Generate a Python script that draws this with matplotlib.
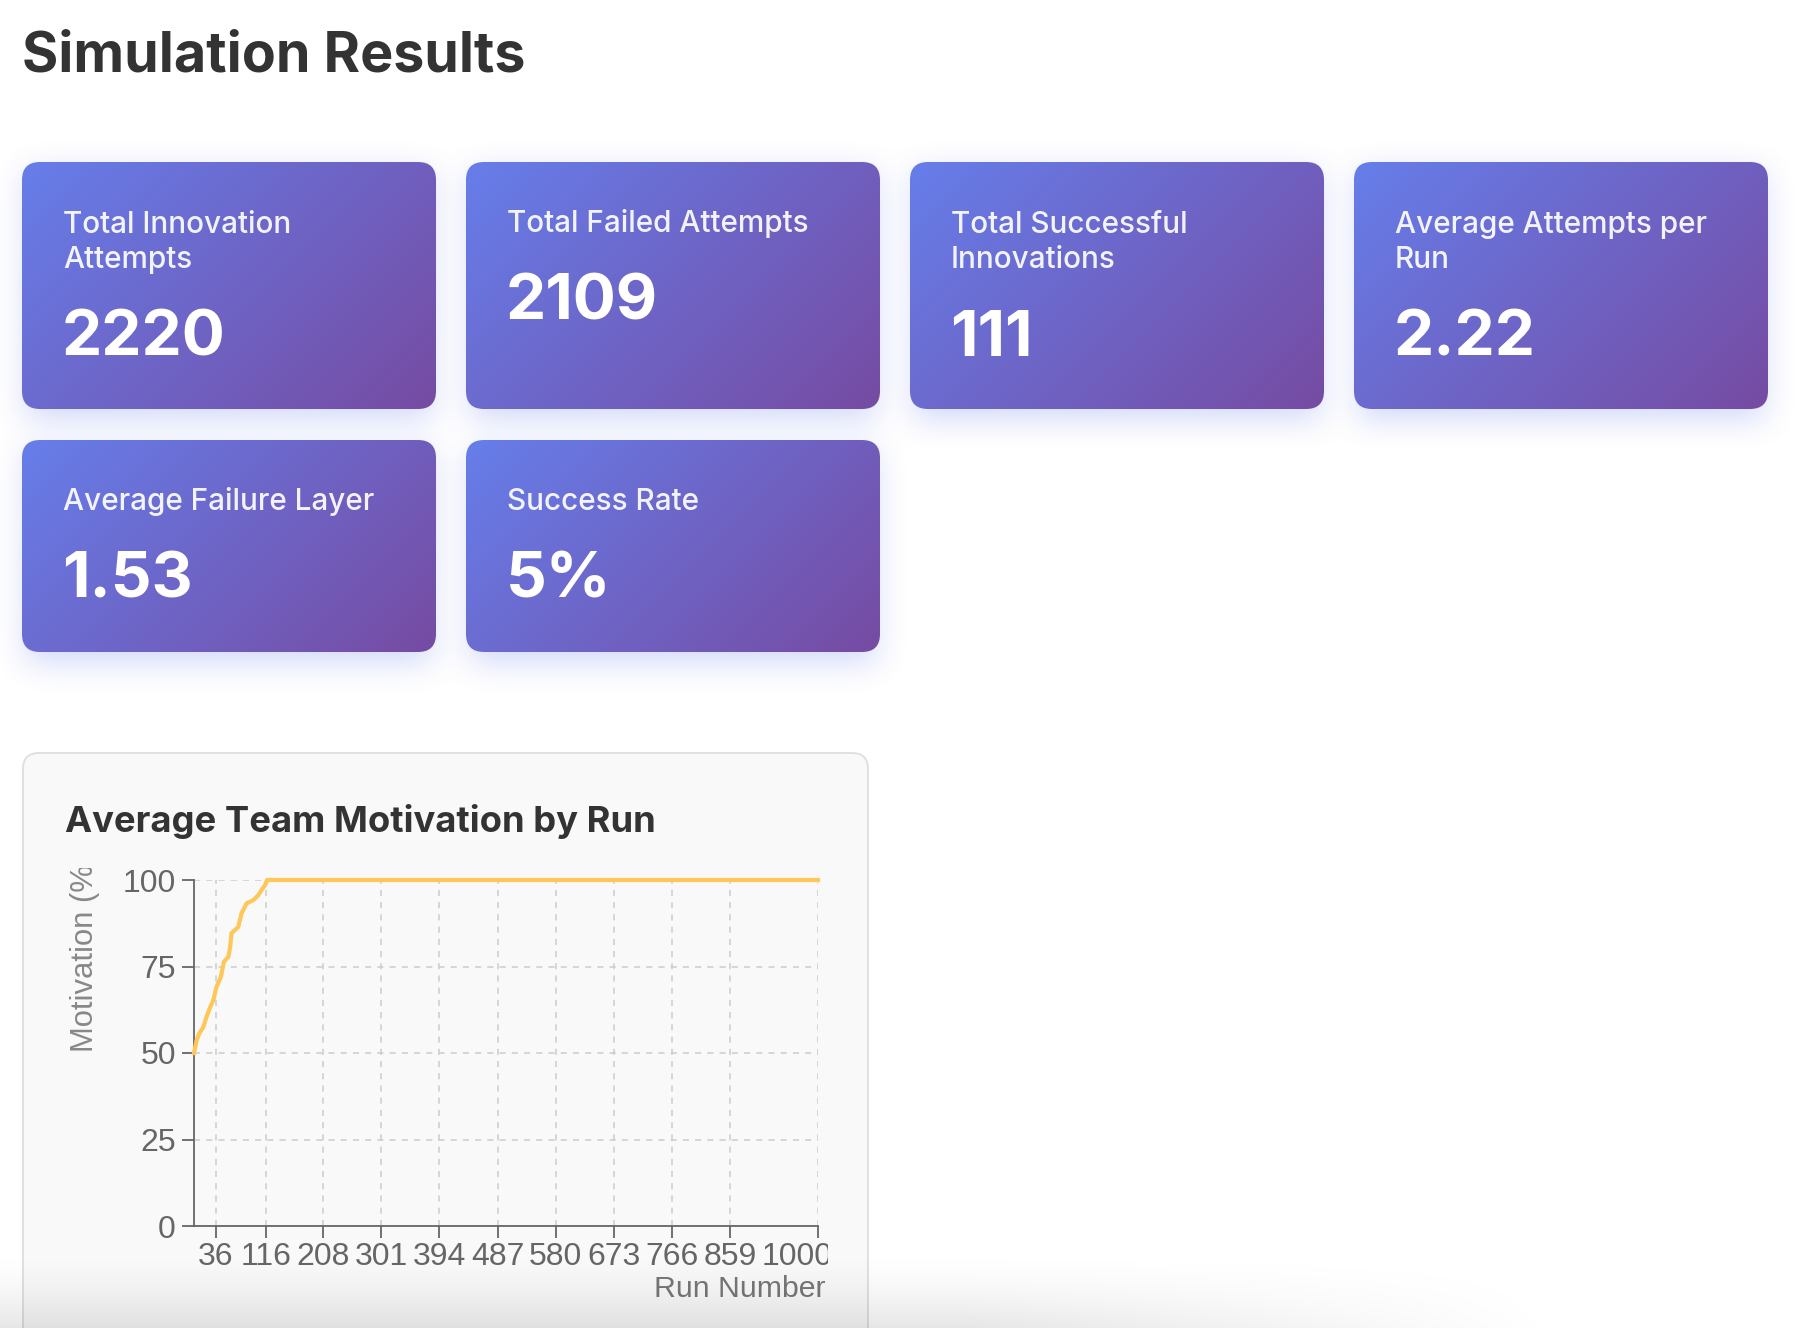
import numpy as np
import matplotlib
matplotlib.use("Agg")
import matplotlib.pyplot as plt
from matplotlib.patches import FancyBboxPatch
from matplotlib.transforms import Bbox, ScaledTranslation

# ---------------- data ----------------
page_title = "Simulation Results"
chart_title = "Average Team Motivation by Run"
card_labels = ["Total Innovation\nAttempts", "Total Failed Attempts",
               "Total Successful\nInnovations", "Average Attempts per\nRun",
               "Average Failure Layer", "Success Rate"]
card_values = ["2220", "2109", "111", "2.22", "1.53", "5%"]

run_numbers = [1, 5, 9, 16, 21, 27, 32, 37, 44, 49, 56, 59, 61, 67, 72, 77,
               85, 96, 104, 109, 115, 118, 1000]
motivation = [50.0, 53.5, 55.5, 57.5, 60.4, 63.3, 65.3, 69.1, 72.0, 76.4,
              77.8, 80.7, 84.6, 85.6, 86.5, 90.3, 93.2, 94.2, 95.6, 97.1,
              98.6, 100.0, 100.0]
x_tick_runs = [36, 116, 208, 301, 394, 487, 580, 673, 766, 859, 1000]
y_ticks = [0, 25, 50, 75, 100]
x_label = "Run Number"
y_label = "Motivation (%)"

# ---------------- figure ----------------
W, H = 1800, 1328
plt.rcParams["font.family"] = ["Inter", "DejaVu Sans"]
TICK_FONT = ["Liberation Sans", "DejaVu Sans"]
fig = plt.figure(figsize=(W / 100, H / 100), dpi=100)
fig.patch.set_facecolor("white")
bg = fig.add_axes([0, 0, 1, 1])
bg.set_xlim(0, W)
bg.set_ylim(H, 0)
bg.axis("off")

# card geometry
card_w = 414
col_x = [22 + i * 444 for i in range(4)]
rows = [(162, 409), (440, 652)]
boxes = []
for i in range(len(card_labels)):
    r, c = divmod(i, 4)
    boxes.append((col_x[c], rows[r][0], col_x[c] + card_w, rows[r][1]))


def box1d(a, r, axis):
    a = np.moveaxis(a, axis, -1)
    p = np.pad(a, [(0, 0)] * (a.ndim - 1) + [(r + 1, r)])
    c = np.cumsum(p, axis=-1)
    out = (c[..., 2 * r + 1:] - c[..., :-2 * r - 1]) / (2 * r + 1)
    return np.moveaxis(out, -1, axis)


# soft shadow under cards
mask = np.zeros((H, W))
for (x0, y0, x1, y1) in boxes:
    mask[y0 + 10:y1 + 10, x0 + 4:x1 - 4] = 1.0
for _ in range(3):
    mask = box1d(mask, 14, 0)
    mask = box1d(mask, 14, 1)
shadow = np.zeros((H, W, 4))
shadow[..., 0] = 102 / 255
shadow[..., 1] = 126 / 255
shadow[..., 2] = 234 / 255
shadow[..., 3] = np.clip(mask, 0, 1) * 0.30
bg.imshow(shadow, extent=(0, W, H, 0), origin="upper", zorder=0, aspect="auto")

c0 = np.array([0x66, 0x7e, 0xea]) / 255
c1 = np.array([0x76, 0x4b, 0xa2]) / 255

for i, (x0, y0, x1, y1) in enumerate(boxes):
    w, h = x1 - x0, y1 - y0
    patch = FancyBboxPatch((x0, y0), w, h, boxstyle="round,pad=0,rounding_size=18",
                           fc="none", ec="none", zorder=2)
    bg.add_patch(patch)
    yy, xx = np.mgrid[0:h, 0:w]
    L = (w + h) * 0.7071
    t = ((xx - w / 2) * 0.7071 + (yy - h / 2) * 0.7071) / L + 0.5
    img = c0[None, None, :] * (1 - t[..., None]) + c1[None, None, :] * t[..., None]
    im = bg.imshow(img, extent=(x0, x1, y1, y0), origin="upper", zorder=2,
                   aspect="auto", interpolation="bilinear")
    im.set_clip_path(patch)
    lab = card_labels[i]
    nlines = lab.count("\n") + 1
    bg.text(x0 + 41, y0 + 70 + 36 * (nlines - 1), lab, color="white", alpha=0.92,
            fontsize=21.4, fontweight="medium", va="baseline", ha="left",
            linespacing=1.34, zorder=3)
    bg.text(x0 + 40, y0 + 158 + 36 * (nlines - 1), card_values[i], color="white",
            fontsize=46, fontweight="bold", va="baseline", ha="left", zorder=3)

bg.text(22, 71, page_title, fontsize=40, fontweight="bold", color="#333333",
        va="baseline", ha="left", zorder=3)

# chart card
chart_card = FancyBboxPatch((23, 753), 845, 700, boxstyle="round,pad=0,rounding_size=16",
                            fc="#f9f9f9", ec="#dedede", lw=1.3, zorder=1)
bg.add_patch(chart_card)
bg.text(65, 832, chart_title, fontsize=26.2, fontweight="bold", color="#333333",
        va="baseline", ha="left", zorder=3)

bg.set_xlim(0, W)
bg.set_ylim(H, 0)

# ---------------- line chart ----------------
ax_l, ax_r, ax_t, ax_b = 194, 818, 880, 1226
ax = fig.add_axes([ax_l / W, 1 - ax_b / H, (ax_r - ax_l) / W, (ax_b - ax_t) / H])
ax.set_facecolor("none")
ax.set_xlim(1, 1000)
ax.set_ylim(0, 100)
ax.plot(run_numbers, motivation, color="#ffc658", lw=3.0, clip_on=False,
        solid_joinstyle="round", zorder=3)
ax.set_xticks(x_tick_runs, labels=[str(v) for v in x_tick_runs])
ax.set_yticks(y_ticks, labels=[str(v) for v in y_ticks])
ax.grid(True, color="#cccccc", lw=1.1, ls=(0, (4, 4)))
ax.set_axisbelow(True)
for s in ["top", "right"]:
    ax.spines[s].set_visible(False)
for s in ["left", "bottom"]:
    ax.spines[s].set_color("#666666")
    ax.spines[s].set_linewidth(1.3)
ax.tick_params(axis="both", length=8.6, width=1.3, color="#666666",
               labelcolor="#666666", labelsize=23)
ax.tick_params(axis="x", pad=3)
ax.tick_params(axis="y", pad=4.5)
for lbl in ax.get_xticklabels() + ax.get_yticklabels():
    lbl.set_fontfamily(TICK_FONT)

# the last x tick label is shifted and clipped at the chart edge, as in the reference
last = ax.xaxis.get_major_ticks()[-1].label1
last.set_transform(last.get_transform() + ScaledTranslation(-0.21, 0, fig.dpi_scale_trans))
last.set_clip_on(True)
last.set_clip_box(Bbox.from_extents(0, 0, 828, H))

ax.set_xlabel(x_label, fontsize=21.8, color="#777777", fontfamily=TICK_FONT)
ax.xaxis.set_label_coords((826 - ax_l) / (ax_r - ax_l), -(1297 - ax_b) / (ax_b - ax_t))
ax.xaxis.label.set_ha("right")
ax.xaxis.label.set_va("baseline")

ax.set_ylabel(y_label, fontsize=22.3, color="#888888", fontfamily=TICK_FONT)
ax.yaxis.set_label_coords((85 - ax_l) / (ax_r - ax_l), (ax_b - 1052) / (ax_b - ax_t))
ax.yaxis.label.set_ha("left")
ax.yaxis.label.set_va("center")
ax.yaxis.label.set_clip_on(True)
ax.yaxis.label.set_clip_box(Bbox.from_extents(0, 0, W, H - 868))

# ---------------- bottom fade overlay ----------------
ov_h = 80
yy = np.linspace(0, 1, ov_h)[:, None]
xx = np.arange(W)[None, :]
hf = np.clip((1560 - xx) / 600.0, 0, 1)
alpha = (yy ** 1.6) * 0.10 * hf
ov = np.zeros((ov_h, W, 4))
ov[..., 3] = alpha
top = fig.add_axes([0, 0, 1, ov_h / H])
top.axis("off")
top.imshow(ov, extent=(0, W, 0, ov_h), origin="upper", aspect="auto")
top.set_xlim(0, W)
top.set_ylim(0, ov_h)

fig.savefig("out.png", dpi=100, facecolor="white")
